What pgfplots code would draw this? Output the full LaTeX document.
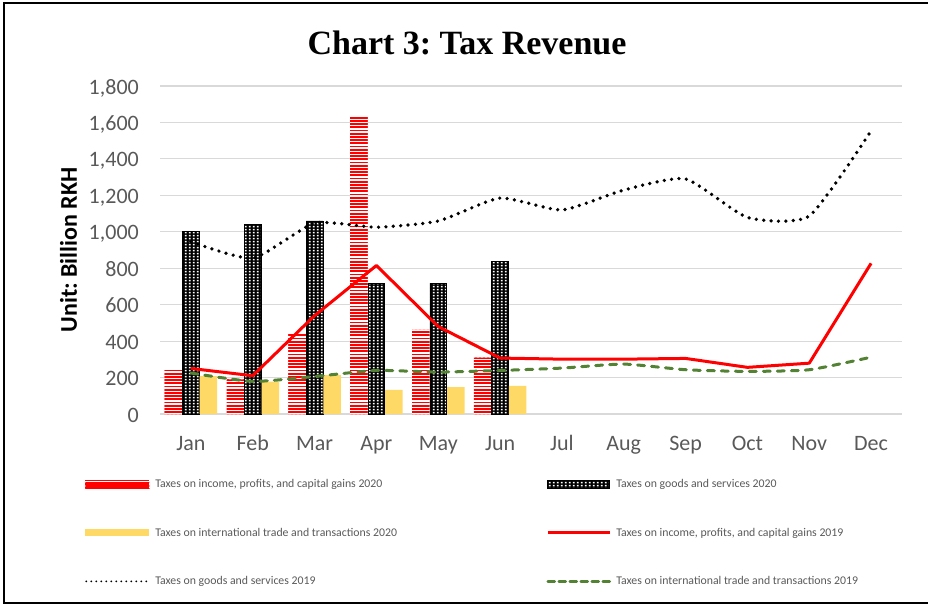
\documentclass[border=0pt]{standalone}
\usepackage{fontspec}
\setmainfont{Carlito}
\newfontfamily\titlefont{Liberation Serif}
\usepackage{pgfplots}
\usepackage{pgfplotstable}
\pgfplotsset{compat=1.18}
\usetikzlibrary{patterns}
\frenchspacing
\definecolor{gridc}{RGB}{217,217,217}
\definecolor{txtc}{RGB}{89,89,89}
\definecolor{yel}{RGB}{255,217,102}
\definecolor{grn}{RGB}{84,130,53}
\pgfdeclarepatternformonly{redstripes}{\pgfqpoint{-1pt}{0pt}}{\pgfqpoint{5pt}{3.2pt}}{\pgfqpoint{4pt}{3.2pt}}{%
  \pgfpathrectangle{\pgfqpoint{-1pt}{0pt}}{\pgfqpoint{6pt}{1.8pt}}\pgfusepath{fill}}
\pgfdeclarepatternformonly{whitesq}{\pgfqpoint{0pt}{0pt}}{\pgfqpoint{4pt}{3.2pt}}{\pgfqpoint{4pt}{3.2pt}}{%
  \pgfpathrectangle{\pgfqpoint{1pt}{0.8pt}}{\pgfqpoint{2.2pt}{1.7pt}}\pgfusepath{fill}}

\pgfplotstableread{
x inc20 goods20 trade20
0 250 1000 208
1 190 1040 178
2 444 1060 214
3 1631 718 133
4 462 718 148
5 309 838 155
}\bardata

\pgfplotstableread{
x inc19 goods19 trade19
0 250 946 225
1 210 855 179
2 540 1047 206
3 815 1025 239
4 480 1059 230
5 307 1185 239
6 301 1120 252
7 301 1229 274
8 305 1290 243
9 256 1079 234
10 279 1087 243
11 827 1554 312
}\linedata

\begin{document}
\begin{tikzpicture}
\useasboundingbox (0pt,0pt) rectangle (928pt,-605pt);
\draw[line width=2pt] (932pt,-2.5pt) -- (4pt,-2.5pt) -- (4pt,-603pt) -- (932pt,-603pt);
\node[anchor=base, font=\titlefont\bfseries\fontsize{34}{40}\selectfont] at (467pt,-54pt) {Chart 3: Tax Revenue};
\begin{axis}[
  at={(160pt,-414pt)}, anchor=south west,
  scale only axis, width=742pt, height=328pt,
  xmin=-0.5, xmax=11.5, ymin=0, ymax=1800,
  xtick={0,...,11},
  xticklabels={Jan,Feb,Mar,Apr,May,Jun,Jul,Aug,Sep,Oct,Nov,Dec},
  ytick={0,200,...,1800},
  /pgf/number format/assume math mode=true,
  /pgf/number format/1000 sep={,},
  ymajorgrids, grid style={gridc, line width=1.2pt},
  axis x line*=bottom, axis y line*=left,
  x axis line style={gridc, line width=1.2pt, -},
  y axis line style={draw=none},
  major tick length=0pt,
  tick style={draw=none},
  xticklabel style={font=\fontsize{22}{26}\selectfont, text=txtc, anchor=base, inner sep=0pt, yshift=-36.5pt},
  yticklabel style={font=\fontsize{22}{26}\selectfont, text=txtc, anchor=base east, inner sep=0pt, xshift=-21pt, yshift=-8pt},
  ylabel={Unit: Billion RKH},
  every axis y label/.style={at={(axis description cs:-0.1233,0.5)}, rotate=90, anchor=center, font=\bfseries\fontsize{24}{28}\selectfont},
  legend columns=2,
  legend cell align=left,
  legend style={at={(axis description cs:-0.101,-0.198)}, anchor=north west, draw=none, fill=none, inner sep=0pt, row sep=39pt, font=\fontsize{11.8}{13}\selectfont, text=txtc, nodes={inner sep=0pt}, /tikz/every odd column/.append style={column sep=5pt}},
]
\addplot[ybar, bar width=17.5pt, bar shift=-17.5pt, draw=none, fill=white, postaction={pattern=redstripes, pattern color=red},
  legend image code/.code={\fill[white] (0pt,-4pt) rectangle (64pt,4pt); \fill[red] (0pt,2.8pt) rectangle (64pt,4pt); \fill[red] (0pt,-0.6pt) rectangle (64pt,0.6pt); \fill[red] (0pt,-2.8pt) rectangle (64pt,-4pt);}]
  table[x=x, y=inc20] {\bardata};
\addlegendentry{\makebox[391pt][l]{Taxes on income, profits, and capital gains 2020}}
\addplot[ybar, bar width=16.7pt, bar shift=0pt, draw=black, line width=0.6pt, fill=black, postaction={pattern=whitesq, pattern color=white},
  legend image code/.code={\fill[black] (0pt,-4pt) rectangle (62pt,4pt); \fill[pattern=whitesq, pattern color=white] (0pt,-4pt) rectangle (62pt,4pt); \draw[black, line width=0.6pt] (0pt,-4pt) rectangle (62pt,4pt);}]
  table[x=x, y=goods20] {\bardata};
\addlegendentry{Taxes on goods and services 2020}
\addplot[ybar, bar width=17.5pt, bar shift=17.5pt, draw=none, fill=yel,
  legend image code/.code={\fill[yel] (0pt,-3.5pt) rectangle (64pt,3.5pt);}]
  table[x=x, y=trade20] {\bardata};
\addlegendentry{\makebox[391pt][l]{Taxes on international trade and transactions 2020}}
\addplot[red, line width=3pt, line join=round,
  legend image code/.code={\draw[red, line width=3pt] (0pt,0pt) -- (62pt,0pt);}]
  table[x=x, y=inc19] {\linedata};
\addlegendentry{Taxes on income, profits, and capital gains 2019}
\addplot[black, line width=3.7pt, line cap=round, dash pattern=on 0pt off 7.4pt, smooth, tension=0.35,
  legend image code/.code={\draw[black, line width=2pt, line cap=round, dash pattern=on 0pt off 5pt] (1pt,0pt) -- (64pt,0pt);}]
  table[x=x, y=goods19] {\linedata};
\addlegendentry{\makebox[391pt][l]{Taxes on goods and services 2019}}
\addplot[grn, line width=3pt, line cap=round, dash pattern=on 7pt off 7pt, smooth, tension=0.35,
  legend image code/.code={\draw[grn, line width=2.5pt, dash pattern=on 7pt off 4pt] (0pt,0pt) -- (62pt,0pt);}]
  table[x=x, y=trade19] {\linedata};
\addlegendentry{Taxes on international trade and transactions 2019}
\end{axis}
\end{tikzpicture}
\end{document}
